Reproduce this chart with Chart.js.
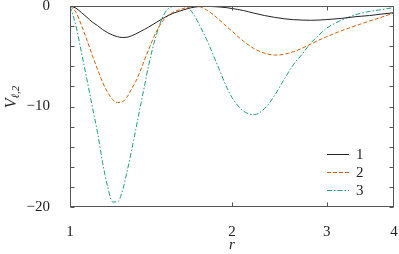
<!DOCTYPE html>
<html>
<head>
<meta charset="utf-8">
<script src="https://cdn.jsdelivr.net/npm/chart.js@4"></script>
<style>
  html, body { margin: 0; padding: 0; background: #fff; }
</style>
</head>
<body>
<canvas id="chart" width="399" height="254"></canvas>
<script>
// r grid (log axis) and the three curves
const rValues = [
  1.0, 1.025, 1.05, 1.075, 1.1, 1.125, 1.15, 1.175, 1.2, 1.225, 1.25, 1.275, 1.3,
  1.325, 1.35, 1.375, 1.4, 1.45, 1.5, 1.55, 1.6, 1.65, 1.7, 1.75, 1.8, 1.85, 1.9,
  1.95, 2.0, 2.1, 2.2, 2.3, 2.4, 2.5, 2.6, 2.7, 2.8, 2.9, 3.0, 3.2, 3.4, 3.6, 3.8, 4.0
];
const series1 = [
  0, -0.2, -0.65, -1.12, -1.6, -1.95, -2.35, -2.65, -2.89, -3.05, -3.13, -3.12, -2.97,
  -2.78, -2.55, -2.33, -2.1, -1.6, -1.13, -0.76, -0.5, -0.28, -0.12, -0.05, -0.04, -0.06, -0.1,
  -0.16, -0.25, -0.45, -0.72, -0.95, -1.13, -1.27, -1.36, -1.4, -1.42, -1.4, -1.35, -1.23, -1.06, -0.95, -0.8, -0.66
];
const series2 = [
  0, -0.6, -1.9, -3.4, -4.9, -6.3, -7.6, -8.6, -9.3, -9.6, -9.55, -9.1, -8.3,
  -7.5, -6.5, -5.4, -4.35, -2.45, -1.25, -0.65, -0.35, -0.15, -0.02, -0.1, -0.45, -0.9, -1.45,
  -2.0, -2.5, -3.5, -4.25, -4.7, -4.88, -4.8, -4.55, -4.2, -3.8, -3.4, -3.05, -2.45, -1.95, -1.5, -1.1, -0.68
];
const series3 = [
  0, -1.9, -4.6, -7.3, -10.0, -12.6, -15.6, -18.0, -19.5, -19.5, -18.5, -16.6, -14.5,
  -12.3, -10.1, -8.0, -5.9, -2.7, -0.7, -0.05, 0, -0.1, -0.9, -2.15, -3.5, -5.0, -6.5,
  -7.95, -9.1, -10.45, -10.8, -10.2, -8.9, -7.3, -5.85, -4.8, -3.7, -2.9, -2.2, -1.4, -0.85, -0.55, -0.35, -0.15
];
const seriesLabels = ["1", "2", "3"];
const xTicks = [1, 2, 3, 4];
const yMinorStep = 2;

const serif = "'Liberation Serif', 'DejaVu Serif', serif";
const inkColor = "#222";
const frameColor = "#555";

function toPoints(values) {
  return values.map((v, i) => ({ x: rValues[i], y: v }));
}

// box around the plot with inward ticks on all four sides
const framePlugin = {
  id: "frame",
  afterDatasetsDraw(chart) {
    const { ctx, chartArea: a, scales } = chart;
    const left = Math.round(a.left) + 0.5;
    const right = Math.round(a.right) - 0.5;
    const top = Math.round(a.top) + 0.5;
    const bottom = Math.round(a.bottom) - 0.5;
    ctx.save();
    ctx.strokeStyle = frameColor;
    ctx.lineWidth = 1;
    ctx.strokeRect(left, top, right - left, bottom - top);
    ctx.beginPath();
    for (let v = scales.y.min; v <= scales.y.max; v += yMinorStep) {
      const py = Math.round(scales.y.getPixelForValue(v)) + 0.5;
      ctx.moveTo(left, py);
      ctx.lineTo(left + 4, py);
      ctx.moveTo(right, py);
      ctx.lineTo(right - 4, py);
    }
    xTicks.slice(1, -1).forEach((v) => {
      const px = Math.round(scales.x.getPixelForValue(v)) + 0.5;
      ctx.moveTo(px, bottom);
      ctx.lineTo(px, bottom - 4);
      ctx.moveTo(px, top);
      ctx.lineTo(px, top + 4);
    });
    ctx.stroke();
    ctx.restore();
  },
};

// legend inside the plot, bottom right
const legendPlugin = {
  id: "innerLegend",
  afterDraw(chart) {
    const { ctx } = chart;
    ctx.save();
    ctx.font = "15px " + serif;
    ctx.textBaseline = "middle";
    ctx.fillStyle = inkColor;
    chart.data.datasets.forEach((ds, i) => {
      const y = 154.5 + i * 18;
      ctx.strokeStyle = ds.borderColor;
      ctx.lineWidth = ds.borderWidth;
      ctx.setLineDash(ds.borderDash || []);
      ctx.beginPath();
      ctx.moveTo(327, y);
      ctx.lineTo(349, y);
      ctx.stroke();
      ctx.fillText(ds.label, 356, y + 1);
    });
    ctx.restore();
  },
};

// y axis label V with subscript l,2
const yLabelPlugin = {
  id: "yLabel",
  afterDraw(chart) {
    const { ctx } = chart;
    ctx.save();
    ctx.translate(11, 97);
    ctx.rotate(-Math.PI / 2);
    ctx.fillStyle = inkColor;
    ctx.textBaseline = "alphabetic";
    const main = "V";
    const sub = "ℓ,2";
    ctx.font = "italic 16px " + serif;
    const wMain = ctx.measureText(main).width;
    ctx.font = "italic 11px " + serif;
    const wSub = ctx.measureText(sub).width;
    const x0 = -(wMain + wSub) / 2;
    ctx.font = "italic 16px " + serif;
    ctx.fillText(main, x0, 5);
    ctx.font = "italic 11px " + serif;
    ctx.fillText(sub, x0 + wMain, 8);
    ctx.restore();
  },
};

const ctx = document.getElementById("chart").getContext("2d");
new Chart(ctx, {
  type: "line",
  data: {
    datasets: [
      {
        label: seriesLabels[0],
        data: toPoints(series1),
        borderColor: "#222222",
        borderWidth: 1,
      },
      {
        label: seriesLabels[1],
        data: toPoints(series2),
        borderColor: "#d95f02",
        borderWidth: 1,
        borderDash: [4, 2],
      },
      {
        label: seriesLabels[2],
        data: toPoints(series3),
        borderColor: "#1b9e77",
        borderWidth: 1,
        borderDash: [5, 2, 1.5, 2],
      },
    ],
  },
  options: {
    responsive: false,
    animation: false,
    devicePixelRatio: 1,
    layout: { padding: { top: 6, right: 5, left: 0, bottom: 0 } },
    elements: {
      point: { radius: 0 },
      line: { cubicInterpolationMode: "monotone", fill: false },
    },
    plugins: {
      legend: { display: false },
      tooltip: { enabled: false },
    },
    scales: {
      x: {
        type: "logarithmic",
        min: 1,
        max: 4,
        afterBuildTicks: (scale) => {
          scale.ticks = xTicks.map((v) => ({ value: v }));
        },
        afterFit: (scale) => {
          scale.height = 47;
          scale.paddingLeft = 0;
          scale.paddingRight = 0;
        },
        grid: { display: false },
        border: { display: false },
        ticks: {
          autoSkip: false,
          maxRotation: 0,
          padding: 8,
          color: inkColor,
          font: { family: serif, size: 15 },
          callback: (v) => String(v),
        },
        title: {
          display: true,
          text: "r",
          color: inkColor,
          font: { family: serif, size: 15, style: "italic", lineHeight: 1 },
          padding: { top: 0, bottom: 1 },
        },
      },
      y: {
        type: "linear",
        min: -20,
        max: 0,
        afterFit: (scale) => {
          scale.width = 70;
          scale.paddingTop = 0;
          scale.paddingBottom = 0;
        },
        grid: { display: false },
        border: { display: false },
        ticks: {
          autoSkip: false,
          stepSize: yMinorStep,
          padding: 12,
          color: inkColor,
          font: { family: serif, size: 15 },
          callback: (v) => (v % 10 === 0 ? (v < 0 ? "\u2212" + -v : String(v)) : ""),
        },
      },
    },
  },
  plugins: [framePlugin, legendPlugin, yLabelPlugin],
});
</script>
</body>
</html>
